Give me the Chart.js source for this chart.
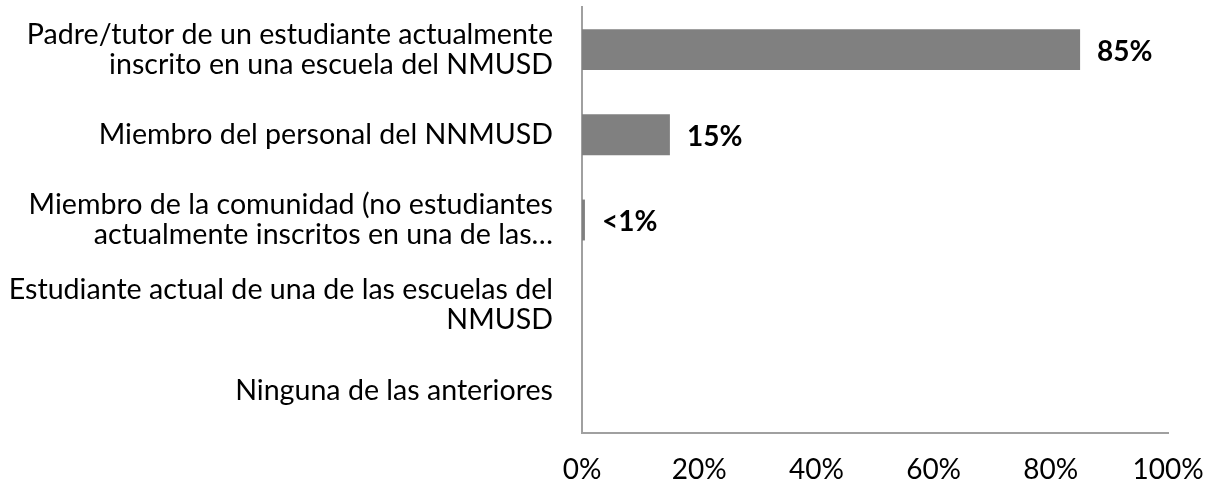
<!DOCTYPE html>
<html>
<head>
<meta charset="utf-8">
<script src="https://cdn.jsdelivr.net/npm/chart.js@4"></script>
<style>
  html, body { margin: 0; padding: 0; background: #ffffff; }
  #wrap { width: 1214px; height: 487px; position: relative; }
</style>
</head>
<body>
<div id="wrap"><canvas id="c"></canvas></div>
<script>
const categories = [
  ["Padre/tutor de un estudiante actualmente", "inscrito en una escuela del NMUSD"],
  "Miembro del personal del NNMUSD",
  ["Miembro de la comunidad (no estudiantes", "actualmente inscritos en una de las…"],
  ["Estudiante actual de una de las escuelas del", "NMUSD"],
  "Ninguna de las anteriores"
];
const values = [85, 15, 0.5, 0, 0];
const valueLabels = ["85%", "15%", "<1%", "", ""];
const xTicks = [0, 20, 40, 60, 80, 100];

const valueLabelPlugin = {
  id: 'valueLabels',
  afterDatasetsDraw(chart) {
    const ctx = chart.ctx;
    const meta = chart.getDatasetMeta(0);
    ctx.save();
    ctx.font = 'bold 28px Lato';
    ctx.fillStyle = '#000000';
    ctx.textAlign = 'left';
    ctx.textBaseline = 'middle';
    meta.data.forEach((bar, i) => {
      const t = valueLabels[i];
      if (t) ctx.fillText(t, bar.x + 17, bar.y + 2);
    });
    ctx.restore();
  }
};

new Chart(document.getElementById('c'), {
  type: 'bar',
  data: {
    labels: categories,
    datasets: [{
      data: values,
      backgroundColor: '#808080',
      borderWidth: 0,
      categoryPercentage: 1,
      barPercentage: 0.48
    }]
  },
  options: {
    indexAxis: 'y',
    responsive: true,
    maintainAspectRatio: false,
    animation: false,
    layout: { padding: { left: 0, right: 46, top: 7, bottom: 0 } },
    plugins: { legend: { display: false }, tooltip: { enabled: false } },
    scales: {
      x: {
        min: 0, max: 100,
        afterBuildTicks(scale) { scale.ticks = xTicks.map(v => ({ value: v })); },
        afterFit(scale) { scale.height = 54; scale.paddingLeft = 0; scale.paddingRight = 0; },
        grid: { display: false, drawTicks: false },
        border: { display: true, color: '#a0a0a0', width: 2 },
        ticks: {
          callback: v => v + '%',
          font: { family: 'Lato', size: 28 },
          color: '#000000',
          padding: 20,
          maxRotation: 0
        }
      },
      y: {
        afterFit(scale) { scale.width = 582; scale.paddingTop = 0; scale.paddingBottom = 0; },
        grid: { display: false, drawTicks: false },
        border: { display: true, color: '#a0a0a0', width: 2 },
        ticks: {
          font: { family: 'Lato', size: 28.6, lineHeight: '30px' },
          color: '#000000',
          padding: 29,
          autoSkip: false
        }
      }
    }
  },
  plugins: [valueLabelPlugin]
});
</script>
</body>
</html>
